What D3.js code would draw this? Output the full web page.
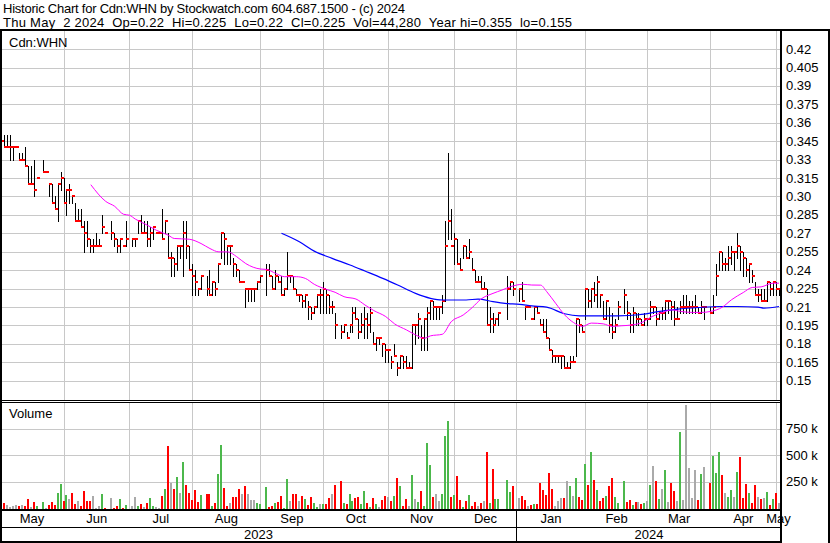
<!DOCTYPE html>
<html><head><meta charset="utf-8">
<script src="https://cdn.jsdelivr.net/npm/d3@7"></script>
<style>
body{margin:0;background:#fff}
svg{display:block}
text{font-family:"Liberation Sans",Arial,sans-serif;fill:#000;white-space:pre}
</style>
</head><body>
<svg id="c" width="830" height="543"></svg>
<script>
// ---------------- data ----------------
const title1 = "Historic Chart for Cdn:WHN by Stockwatch.com 604.687.1500 - (c) 2024";
const title2 = "Thu May  2 2024  Op=0.22  Hi=0.225  Lo=0.22  Cl=0.225  Vol=44,280  Year hi=0.355  lo=0.155";
const symbol = "Cdn:WHN";
const volumeTitle = "Volume";
const startDate = "2023-05-03";          // first weekday slot of the chart

// one entry per weekday slot (null = no trading)
const high = [
.355,.35,.35,.35,.34,.34,.335,.335,.34,.325,
.325,.33,.315,null,.33,.32,.31,.31,.30,.31,
.32,.315,.305,.31,.30,.295,.29,.29,.28,.28,
.265,.265,.27,.265,.285,.27,null,.28,.27,.265,
.265,.26,.28,null,.265,.265,.28,.285,.28,.28,
.275,.275,.27,.27,.29,.28,.27,.255,.25,.26,
.26,.28,.28,.26,.245,.24,.225,.235,null,.235,
.24,.23,.23,.245,.27,.27,.26,.26,.25,.245,
.24,.23,.225,.225,.225,.225,.23,.235,null,.245,
.245,.235,.24,.235,.235,.225,.255,.235,.235,.225,
.22,.22,.22,.215,.21,.21,.22,.225,.23,.225,
.22,.215,.205,null,.195,.195,.19,.195,.21,.21,
.20,.205,.21,.205,.21,.19,.185,.185,.18,.18,
.175,.17,.18,.165,.17,.17,.17,.165,.195,.195,
.205,.195,.20,.21,.215,.215,.21,.21,.22,.28,
.335,.29,.27,.265,.25,.26,.26,.265,.25,.24,
.235,.235,.23,.225,.21,.205,.20,.205,null,null,
.235,.23,.23,null,.225,.23,.21,.21,.20,.21,
.21,.20,.20,.20,.185,.175,.17,.17,.17,.17,
.165,.17,.17,.20,.20,.195,.225,.225,.225,.23,
.235,.22,.215,.215,.21,.205,.20,.215,null,.225,
.215,.205,.21,.205,.205,.20,.205,.20,.215,.21,
.21,.205,.21,.215,.215,.215,.215,.21,.215,.22,
.22,.215,.215,.22,.21,.215,.21,null,.21,.22,
.245,.255,.255,.25,.26,.26,.255,.27,.26,.255,
.25,.245,.24,.23,.225,.225,.225,.23,.23,.23,
.23,.225];
const low = [
.345,.34,.34,.33,.33,.34,.33,.33,.325,.31,
.31,.30,.315,null,.32,.32,.30,.295,.29,.28,
.305,.295,.285,.295,.295,.28,.28,.275,.255,.26,
.255,.255,.26,.26,.27,.27,null,.265,.26,.255,
.255,.26,.26,null,.26,.26,.27,.27,.27,.26,
.26,.265,.27,.27,.265,.27,.25,.235,.235,.24,
.25,.235,.25,.24,.22,.22,.22,.225,null,.22,
.22,.22,.22,.23,.25,.245,.245,.245,.235,.235,
.23,.23,.21,.215,.215,.215,.225,.23,null,.22,
.235,.225,.225,.23,.22,.22,.225,.23,.225,.22,
.215,.21,.21,.20,.20,.205,.21,.205,.205,.205,
.205,.205,.185,null,.185,.19,.185,.19,.19,.20,
.185,.19,.185,.185,.19,.18,.175,.18,.17,.165,
.165,.16,.17,.155,.16,.16,.16,.16,.16,.18,
.185,.175,.175,.175,.20,.20,.20,.20,.205,.215,
.265,.265,.245,.245,.24,.25,.25,.25,.24,.23,
.23,.225,.225,.195,.19,.19,.195,.195,null,null,
.20,.225,.22,null,.215,.215,.20,.21,.20,.20,
.205,.195,.19,.185,.175,.165,.165,.165,.16,.16,
.16,.16,.165,.17,.19,.19,.20,.21,.21,.215,
.21,.21,.20,.20,.19,.185,.19,.20,null,.205,
.20,.19,.19,.195,.195,.195,.195,.195,.20,.205,
.195,.20,.20,.20,.205,.20,.195,.20,.205,.205,
.205,.205,.205,.205,.205,.205,.20,null,.205,.205,
.22,.24,.24,.24,.24,.245,.24,.25,.24,.235,
.235,.23,.23,.22,.215,.215,.215,.215,.22,.22,
.22,.22];
const close = [
.345,.34,.34,.34,.34,.34,.33,.33,.325,.31,
.31,.305,.315,null,.32,.32,.31,.295,.29,.31,
.315,.295,.305,.305,.30,.28,.28,.275,.27,.265,
.26,.26,.26,.26,.275,.27,null,.27,.265,.26,
.265,.26,.265,null,.265,.265,.28,.27,.27,.265,
.27,.275,.27,.27,.265,.28,.25,.25,.245,.26,
.26,.27,.26,.24,.235,.23,.225,.235,null,.225,
.22,.23,.225,.245,.27,.265,.26,.26,.245,.24,
.23,.23,.225,.225,.225,.225,.23,.235,null,.24,
.235,.225,.235,.23,.22,.225,.235,.235,.225,.22,
.22,.215,.22,.21,.205,.21,.22,.22,.225,.22,
.21,.21,.195,null,.19,.195,.185,.195,.205,.20,
.19,.195,.20,.195,.205,.18,.185,.185,.18,.175,
.175,.165,.17,.16,.17,.165,.16,.16,.195,.195,
.20,.185,.20,.205,.215,.21,.21,.21,.215,.26,
.28,.26,.265,.245,.24,.26,.25,.255,.24,.23,
.23,.225,.225,.195,.20,.195,.20,.205,null,null,
.225,.23,.225,null,.225,.215,.21,.21,.20,.21,
.205,.195,.19,.185,.175,.17,.17,.17,.17,.16,
.16,.165,.165,.20,.195,.19,.225,.215,.225,.22,
.23,.22,.20,.215,.195,.19,.195,.21,null,.22,
.205,.195,.205,.20,.20,.195,.20,.20,.21,.21,
.20,.205,.205,.215,.215,.21,.20,.20,.21,.21,
.21,.21,.21,.21,.205,.21,.21,null,.205,.21,
.235,.255,.245,.245,.25,.255,.255,.26,.255,.25,
.24,.245,.235,.22,.22,.215,.215,.23,.225,.23,
.225,.225];
// volume in thousands of shares
const volumeK = [
107,44,28,13,22,28,19,28,19,85,
13,57,19,null,57,3,28,57,28,141,
226,66,123,85,141,35,66,19,160,66,
66,113,3,19,132,3,null,94,3,19,
85,3,28,null,19,104,19,38,13,47,
94,19,13,3,113,179,585,236,179,292,
141,434,217,141,75,170,57,123,null,132,
132,19,47,321,594,189,19,47,104,104,
179,132,208,132,75,75,47,38,null,198,
13,19,47,57,113,3,274,66,132,132,
66,113,85,28,104,47,13,38,38,38,
94,132,217,null,255,47,38,132,66,94,
104,38,160,47,13,94,38,13,75,113,
104,66,113,283,208,19,85,19,311,85,
57,160,19,613,406,104,132,66,132,679,
821,104,123,302,75,13,66,123,19,57,
19,47,66,528,47,368,85,85,null,null,
264,151,208,null,94,113,75,19,28,38,
38,236,170,123,330,179,19,66,94,94,
255,208,113,283,104,75,415,217,528,264,
170,66,94,113,208,283,104,47,null,255,
57,75,28,57,57,38,47,66,217,396,
255,85,179,359,57,236,160,66,717,75,
972,377,94,359,75,321,387,null,236,491,
330,528,311,141,104,170,104,340,481,94,
226,141,47,217,104,85,94,151,28,85,
141,44];
// day direction versus previous close: u = up, d = down, n = unchanged, - = no trade
const direction = [
"ndnnnndndd","ndu-undddu","udunddnddd","dnnnud-ndd","udu-nnudnd",
"uunndudndu","nudddddu-d","duduuddndd","dndnnnuu-u","ddudduundd",
"ndudduunud","dnd-duduud","duududundd","ndududdnun","uduuudnnuu",
"ududdududd","ndnduduu--","uud-nddndu","ddddddnnnd","nunuddudud",
"uddudduu-u","ddudndunun","dununddnun","nnnndun-du","uudnuunudd",
"duddndnudu","dn"].join("");

// moving averages (slot, value)
const maShortSlots = [30,35,38,41,43,45,49,52,56,58,63,67,70,73,76,79,82,87,89,92,
 95,99,102,105,109,112,115,119,122,125,129,132,136,139,142,144,148,151,155,158,
 161,165,168,171,175,178,181,183,186,189,192,195,198,202,205,208,212,215,218,222,
 225,228,232,235,238,242,245,249,252,255,259,261];
const maShortValues = [.3096,.296,.292,.2855,.2847,.2815,.2766,.2725,.2685,.2658,
 .2652,.2617,.2576,.2549,.2549,.2509,.2454,.2409,.2406,.2374,
 .2347,.2347,.2333,.2285,.2244,.222,.2184,.2165,.2117,.2071,
 .2022,.1962,.1913,.1873,.1846,.1865,.1878,.1981,.2035,.2095,
 .2165,.2211,.2238,.2266,.2285,.2279,.2278,.2226,.2131,.2037,
 .1974,.1942,.1969,.1963,.1942,.1947,.1955,.1974,.2018,.2056,
 .2077,.2064,.2056,.2056,.2064,.2099,.2158,.2218,.2259,.2264,.2294,.2294];
const maLongSlots = [94,100,105,111,117,122,128,133,139,144,148,151,156,160,165,169,
 174,178,183,189,194,200,207,214,221,227,234,241,247,254,256,261];
const maLongValues = [.27,.2631,.2555,.2496,.2442,.2393,.2333,.2279,.2211,.2171,
 .2157,.2157,.2157,.2165,.2144,.213,.2122,.2109,.2099,.2045,
 .2028,.2028,.2028,.2037,.2064,.2083,.2096,.2104,.2104,.2099,.2091,.2104];

const priceTicks = [0.15,0.165,0.18,0.195,0.21,0.225,0.24,0.255,0.27,0.285,0.30,0.315,0.33,0.345,0.36,0.375,0.39,0.405,0.42];
const priceTickLabels = ["0.15","0.165","0.18","0.195","0.21","0.225","0.24","0.255","0.27","0.285","0.30","0.315","0.33","0.345","0.36","0.375","0.39","0.405","0.42"];
const volumeTicks = [250,500,750];
const volumeTickLabels = ["250 k","500 k","750 k"];
const monthStarts = ["2023-05-03","2023-06-01","2023-07-03","2023-08-01","2023-09-01","2023-10-02",
 "2023-11-01","2023-12-01","2024-01-01","2024-02-01","2024-03-01","2024-04-01","2024-05-01"];
const monthLabels = ["May","Jun","Jul","Aug","Sep","Oct","Nov","Dec","Jan","Feb","Mar","Apr","May"];
const yearStarts = ["2023-05-03","2024-01-01"];
const yearLabels = ["2023","2024"];

// ---------------- layout ----------------
const W = 830, H = 543;
const plotL = 0, plotR = 781;
const priceTop = 31, priceBot = 400;
const volTop = 402, volBot = 509;
const monthRowBot = 527, yearRowBot = 541;
const grid = "#c8c8c8";
const upC = "#4cb84c", downC = "#ff0000", flatC = "#aaaaaa";

const svg = d3.select("#c");
const parse = d3.timeParse("%Y-%m-%d");
const start = parse(startDate);
const slotOf = s => d3.timeDays(start, parse(s)).filter(d => d.getDay() % 6 !== 0).length;
const n = close.length;

const x = d3.scaleLinear().domain([0, n - 1]).range([1.44, 779]);
const y = d3.scaleLinear().domain([0.15, 0.42]).range([380.7, 49.1]);
const yv = d3.scaleLinear().domain([0, 1000]).range([508, 402]);

svg.append("rect").attr("width", W).attr("height", H).attr("fill", "#fff");

// header
svg.append("text").attr("x", 3).attr("y", 13).style("font-size", "13px")
  .attr("textLength", 402).attr("lengthAdjust", "spacing").text(title1);
svg.append("text").attr("x", 3).attr("y", 27).style("font-size", "13px")
  .attr("textLength", 569).attr("lengthAdjust", "spacing").text(title2);

const g = svg.append("g").attr("shape-rendering", "crispEdges");

// grid
const mSlots = monthStarts.map(slotOf);
const gx = s => Math.floor(x(s)) + 0.5;
g.selectAll(".hg").data(priceTicks).join("line")
  .attr("x1", 2).attr("x2", 780)
  .attr("y1", d => Math.round(y(d)) + 0.5).attr("y2", d => Math.round(y(d)) + 0.5)
  .attr("stroke", grid);
g.selectAll(".vg").data(mSlots.slice(1)).join("line")
  .attr("x1", gx).attr("x2", gx).attr("y1", priceTop).attr("y2", priceBot)
  .attr("stroke", grid);
g.selectAll(".hvg").data(volumeTicks).join("line")
  .attr("x1", 2).attr("x2", 780)
  .attr("y1", d => Math.round(yv(d)) + 0.5).attr("y2", d => Math.round(yv(d)) + 0.5)
  .attr("stroke", grid);
g.selectAll(".vvg").data(mSlots.slice(1)).join("line")
  .attr("x1", gx).attr("x2", gx).attr("y1", volTop).attr("y2", volBot)
  .attr("stroke", grid);

// labels in panels
svg.append("text").attr("x", 9).attr("y", 47).style("font-size", "13px").text(symbol);
svg.append("text").attr("x", 9).attr("y", 418).style("font-size", "13px").text(volumeTitle);

// volume bars
const idx = d3.range(n);
const colorOf = i => direction[i] === "u" ? upC : direction[i] === "d" ? downC : flatC;
g.selectAll(".vb").data(idx.filter(i => volumeK[i] != null)).join("rect")
  .attr("x", i => Math.floor(x(i)) - 1)
  .attr("y", i => Math.max(volTop + 1, Math.round(yv(volumeK[i]))))
  .attr("width", 2)
  .attr("height", i => volBot - Math.max(volTop + 1, Math.round(yv(volumeK[i]))))
  .attr("fill", colorOf);

// price bars
const traded = idx.filter(i => close[i] != null);
g.selectAll(".hl").data(traded.filter(i => high[i] > low[i])).join("rect")
  .attr("x", i => Math.floor(x(i)))
  .attr("y", i => Math.round(y(high[i])))
  .attr("width", 1)
  .attr("height", i => Math.round(y(low[i])) - Math.round(y(high[i])) + 1)
  .attr("fill", "#000");
g.selectAll(".cl").data(traded).join("rect")
  .attr("x", i => Math.floor(x(i)))
  .attr("y", i => Math.round(y(close[i])) - 1)
  .attr("width", 3).attr("height", 2)
  .attr("fill", "#ff0000");

// moving averages
const line = d3.line().x(d => x(d[0])).y(d => y(d[1])).curve(d3.curveMonotoneX);
svg.append("path").attr("d", line(d3.zip(maLongSlots, maLongValues)))
  .attr("fill", "none").attr("stroke", "#0000ff").attr("stroke-width", 1.2);
svg.append("path").attr("d", line(d3.zip(maShortSlots, maShortValues)))
  .attr("fill", "none").attr("stroke", "#ff00ff").attr("stroke-width", 1);

// right axis labels
svg.selectAll(".pt").data(priceTicks).join("text")
  .attr("x", 786).attr("y", d => y(d) + 4.5).style("font-size", "13px")
  .text((d, i) => priceTickLabels[i]);
svg.selectAll(".vt").data(volumeTicks).join("text")
  .attr("x", 786).attr("y", d => yv(d) + 4.5).style("font-size", "13px")
  .text((d, i) => volumeTickLabels[i]);

// month labels
const bounds = [plotL, ...mSlots.slice(1).map(s => x(s)), plotR];
svg.selectAll(".ml").data(monthLabels).join("text")
  .attr("x", (d, i) => (bounds[i] + bounds[i + 1]) / 2)
  .attr("y", 523).attr("text-anchor", "middle").style("font-size", "13px").text(d => d);
const ySlots = yearStarts.map(slotOf);
const yb = [plotL, x(ySlots[1]), plotR];
svg.selectAll(".yl").data(yearLabels).join("text")
  .attr("x", (d, i) => (yb[i] + yb[i + 1]) / 2)
  .attr("y", 539).attr("text-anchor", "middle").style("font-size", "13px").text(d => d);

// frame lines
const b = svg.append("g").attr("shape-rendering", "crispEdges").attr("fill", "#000");
b.append("rect").attr("x", 0).attr("y", 29).attr("width", W).attr("height", 2);
b.append("rect").attr("x", 0).attr("y", 29).attr("width", 2).attr("height", H - 29);
b.append("rect").attr("x", 780).attr("y", 29).attr("width", 2).attr("height", 514);
b.append("rect").attr("x", 828).attr("y", 29).attr("width", 2).attr("height", 514);
b.append("rect").attr("x", 0).attr("y", 400).attr("width", plotR).attr("height", 1);
b.append("rect").attr("x", 0).attr("y", 402).attr("width", plotR).attr("height", 1);
b.append("rect").attr("x", 0).attr("y", volBot).attr("width", plotR).attr("height", 2);
b.append("rect").attr("x", 0).attr("y", monthRowBot).attr("width", plotR).attr("height", 1);
b.append("rect").attr("x", 0).attr("y", yearRowBot).attr("width", plotR).attr("height", 2);
b.append("rect").attr("x", Math.floor(x(ySlots[1]))).attr("y", volBot).attr("width", 1).attr("height", yearRowBot - volBot);
</script>
</body></html>
